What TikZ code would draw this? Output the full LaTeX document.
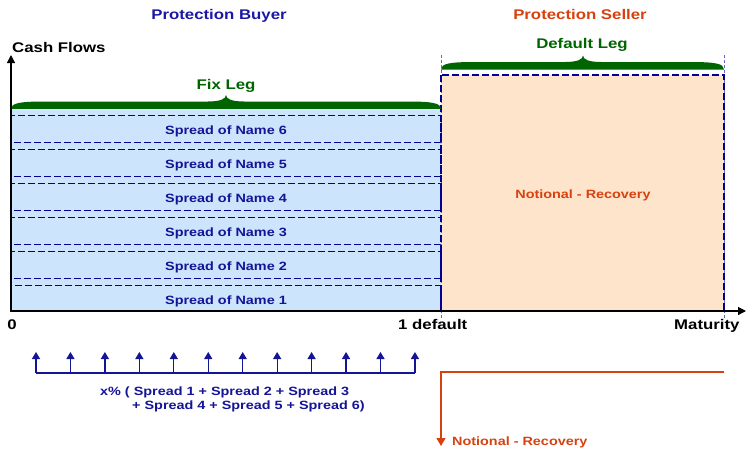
\documentclass[tikz,border=0pt]{standalone}
\usepackage{fontspec}
\setmainfont{Liberation Sans}[FakeStretch=1.2]
\usetikzlibrary{arrows.meta}
\definecolor{dblue}{RGB}{20,20,150}
\definecolor{tblue}{RGB}{25,25,165}
\definecolor{sorange}{RGB}{215,65,15}
\definecolor{lgreen}{RGB}{0,100,0}
\definecolor{fillblue}{RGB}{204,228,252}
\definecolor{fillorange}{RGB}{255,228,204}
\definecolor{dashblue}{RGB}{0,0,150}
\begin{document}
\begin{tikzpicture}[x=1pt,y=-1pt,
  big/.style={font=\fontsize{14}{16}\selectfont\bfseries, inner sep=0pt},
  small/.style={font=\fontsize{12}{14}\selectfont\bfseries, inner sep=0pt},
  dashbox/.style={draw=dashblue, line width=1.4pt, dash pattern=on 7pt off 3pt},
  thindash/.style={draw=dashblue!60, line width=0.6pt, dash pattern=on 3pt off 2pt},
  axisline/.style={draw=black, line width=1.2pt, -{Triangle[length=8pt,width=8pt]}},
  uparrow/.style={draw=dblue, line width=1.2pt, -{Triangle[length=7pt,width=8pt]}},
  legbrace/.style={fill=lgreen, draw=none},
  payline/.style={draw=sorange, line width=1.2pt}
]
\useasboundingbox (0,0) rectangle (747,448);

% fills
\fill[fillblue] (11,110) rectangle (441,311);
\fill[fillorange] (441,75) rectangle (724,311);

% thin dashed guides
\draw[thindash] (441,55) -- (441,318);
\draw[thindash] (724,55) -- (724,318);

% stripes
\foreach \k/\cy in {1/299,2/265,3/231,4/197,5/163,6/129}{
  \pgfmathsetmacro{\yb}{\k==1 ? 311 : \cy+13.5}
  \draw[dashbox] (11,\cy-13.5) rectangle (441,\yb);
  \node[small, text=dblue, anchor=mid] (s\k) at (226,\cy+2.5) {Spread of Name \k};
}
\draw[dashbox] (441,75) rectangle (724,311);
\node[small, text=sorange, anchor=mid] (nr) at (583,195.5) {Notional - Recovery};

% braces
\fill[legbrace] (11,109) .. controls (11,103) and (20,101.5) .. (45,101.5)
  -- (208,101.5) .. controls (220,101.5) and (226,99) .. (226,95)
  .. controls (226,99) and (232,101.5) .. (244,101.5)
  -- (407,101.5) .. controls (432,101.5) and (441,103) .. (441,109) -- cycle;
\fill[legbrace] (441,69.5) .. controls (441,63.5) and (450,62) .. (475,62)
  -- (565,62) .. controls (577,62) and (583,59.5) .. (583,55.5)
  .. controls (583,59.5) and (589,62) .. (601,62)
  -- (690,62) .. controls (715,62) and (724,63.5) .. (724,69.5) -- cycle;

% axes
\coordinate (O) at (11,311);
\coordinate (xend) at (746,311);
\coordinate (yend) at (11,55);
\draw[axisline] (O) -- (xend);
\draw[axisline] (O) -- (yend);

% titles and labels
\node[big, text=tblue, anchor=mid] (buyer) at (219,16.5) {Protection Buyer};
\node[big, text=sorange, anchor=mid] (seller) at (580,16.5) {Protection Seller};
\node[big, anchor=mid west] (cf) at (12,49.5) {Cash Flows};
\node[big, text=lgreen, anchor=mid] (fix) at (226,86.5) {Fix Leg};
\node[big, text=lgreen, anchor=mid] (def) at (582,45.5) {Default Leg};
\node[big, anchor=mid] (zero) at (12,326.5) {0};
\node[big, anchor=mid west] (dflt) at (398,326.5) {1 default};
\node[big, anchor=mid west] (mat) at (674,326.5) {Maturity};

% premium payments
\coordinate (pa) at (36,373);
\coordinate (pb) at (415,373);
\draw[dblue, line width=1.2pt] (pa) -- (pb);
\foreach \i in {0,...,11}{
  \coordinate (u\i) at ({36+34.45*\i},373);
  \coordinate (t\i) at ({36+34.45*\i},352);
  \draw[uparrow] (u\i) -- (t\i);
}
\node[small, text=dblue, anchor=mid west] (xa) at (100,392.5) {x\% ( Spread 1 + Spread 2 + Spread 3};
\node[small, text=dblue, anchor=mid west] (xb) at (132,406.5) {+ Spread 4 + Spread 5 + Spread 6)};

% protection payment
\coordinate (pr) at (724,372);
\coordinate (pc) at (441,372);
\coordinate (pd) at (441,446);
\draw[payline, -{Triangle[length=8pt,width=9pt]}] (pr) -- (pc) -- (pd);
\node[small, text=sorange, anchor=mid west] (nr2) at (452,443) {Notional - Recovery};
\end{tikzpicture}
\end{document}
